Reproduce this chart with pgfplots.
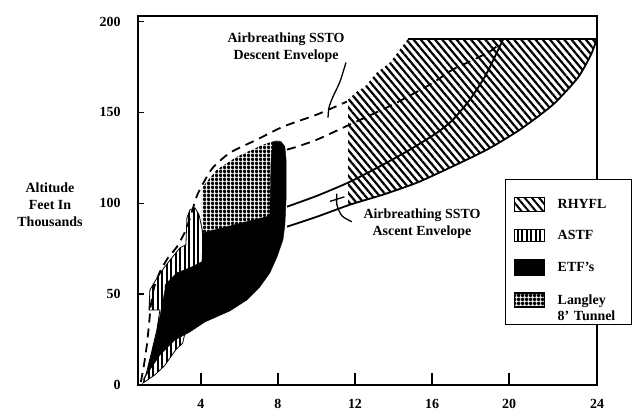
\documentclass[border=0pt]{standalone}
\usepackage{fontspec}
\setmainfont{Liberation Serif}
\usepackage{pgfplots}
\pgfplotsset{compat=1.18}
\usetikzlibrary{patterns.meta}
\newcommand{\lbl}{\fontsize{14}{17}\selectfont\bfseries}
\begin{document}
\begin{tikzpicture}
\useasboundingbox (-138bp,-26bp) rectangle (501bp,385bp);
\begin{axis}[
  at={(0,0)}, anchor=south west,
  scale only axis, width=459bp, height=369bp,
  xmin=0.73, xmax=24.57, ymin=0, ymax=203,
  clip=false,
  axis line style={line width=1.5bp},
  tick align=inside, xtick pos=bottom, ytick pos=left,
  major tick length=6bp,
  tick style={line width=1.4bp, black},
  /pgf/number format/assume math mode=true,
  ticklabel style={font=\lbl},
  ytick={0,50,100,150,200},
  yticklabel style={xshift=-14bp},
  xtick={24.57}, xticklabels={24},
  xticklabel style={yshift=-11bp},
  extra x ticks={4,8,12,16,20},
  extra x tick style={major tick length=12bp},
  legend style={at={(axis cs:19.79,113.5)}, anchor=north west, draw=black,
    line width=1.5bp, fill=white, inner xsep=8bp, inner ysep=17bp,
    row sep=16bp, font=\lbl, nodes={align=left},
    /tikz/every odd column/.append style={column sep=10bp},
    /tikz/every even column/.append style={text width=64bp}},
  legend cell align=left,
]
% legend
\addlegendimage{legend image code/.code={\draw[line width=1.2bp, pattern={Lines[angle=-50,distance=5.5bp,line width=2bp]}] (0bp,-7bp) rectangle (30bp,7bp);}}
\addlegendentry{RHYFL}
\addlegendimage{legend image code/.code={\draw[line width=1.2bp, pattern={Lines[angle=90,distance=4.5bp,line width=2bp]}] (0bp,-6bp) rectangle (30bp,6bp);}}
\addlegendentry{ASTF}
\addlegendimage{legend image code/.code={\draw[line width=1.2bp, fill=black] (0bp,-8bp) rectangle (30bp,8bp);}}
\addlegendentry{ETF's}
\addlegendimage{legend image code/.code={\draw[line width=1.2bp, pattern={Hatch[angle=0,distance=3.6bp,line width=2.1bp]}] (0bp,-7bp) rectangle (30bp,7bp);}}
\addlegendentry{Langley\\8' Tunnel}

% RHYFL
\addplot[forget plot, draw=none, pattern={Lines[angle=-50,distance=5.5bp,line width=2.2bp]}] coordinates {
(11.64,157.0) (11.64,99.7) (11.74,99.2) (13.45,104.7) (15.22,111.3) (16.94,119.6)
(18.86,129.5) (20.57,140.5) (22.29,154.3) (23.58,169.1) (24.26,181.8) (24.57,190.4)
(14.75,190.4) (13.82,177.4) (13.14,171.9) (12.52,164.2) (12.10,161.4)} -- cycle;
% ASTF
\addplot[forget plot, draw=black, line width=0.8bp, pattern={Lines[angle=90,distance=4.5bp,line width=2bp]}] coordinates {
(0.99,1.1) (1.60,5.5) (2.10,10.5) (2.70,19.5) (3.05,23.0) (3.20,30.0) (4.00,45.0) (4.10,67.8) (4.10,83.7)
(3.90,93.7) (3.69,97.5) (3.43,96.4) (3.27,92.0) (3.22,77.1) (2.91,75.5) (2.49,70.0)
(2.08,64.5) (1.66,57.9) (1.35,52.3) (1.30,41.3) (1.87,41.3) (1.71,30.3) (1.40,16.5) (1.14,5.5)} -- cycle;
% Langley 8' tunnel
\addplot[forget plot, draw=none, pattern={Hatch[angle=0,distance=3.6bp,line width=2.1bp]}] coordinates {
(4.05,83.7) (4.05,108.5) (4.47,114.0) (4.83,118.5) (5.87,125.6) (7.22,132.2)
(7.84,134.4) (8.10,134.4) (8.10,90.9) (5.77,87.6)} -- cycle;
% ETF's
\addplot[forget plot, draw=black, fill=black] coordinates {
(0.99,2.8) (1.87,16.5) (2.65,24.8) (3.43,29.2) (4.21,34.7) (5.51,40.8) (6.39,46.8)
(7.06,54.0) (7.58,61.7) (7.95,70.5) (8.26,79.9) (8.36,88.2) (8.42,101.9) (8.42,124.0)
(8.36,131.1) (8.16,133.9) (7.74,133.9) (7.64,124.0) (7.58,93.7) (7.43,92.6) (5.77,88.2)
(4.10,83.7) (4.05,67.8) (3.43,64.5) (2.75,61.7) (2.13,55.1) (2.13,52.3) (1.97,43.0)
(1.61,24.8) (1.19,6.6)} -- cycle;
% descent envelope (dashed)
\addplot[forget plot, black, line width=1.8bp, dash pattern=on 9bp off 6bp, smooth, tension=0.4] coordinates {
(0.88,1.7) (1.04,11.0) (1.19,22.0) (1.30,33.1) (1.40,44.1) (1.56,53.4) (1.87,62.3)
(2.29,70.0) (2.75,76.0) (3.22,85.4) (3.53,95.3) (3.79,104.1) (4.16,111.8) (4.62,119.6)
(5.51,127.8) (6.91,135.0) (8.26,142.1) (10.03,148.8) (11.58,155.9)};
\addplot[forget plot, black, line width=1.8bp, dash pattern=on 9bp off 6bp, smooth, tension=0.4] coordinates {
(8.47,129.5) (8.99,131.1) (10.03,135.0) (11.74,143.3) (12.52,147.1) (13.97,154.3)
(15.90,165.3) (17.09,173.6) (17.97,178.0) (19.01,183.5) (19.53,187.9)};
% ascent envelope (solid)
\addplot[forget plot, black, line width=1.8bp, smooth, tension=0.4] coordinates {
(8.47,98.1) (10.03,104.1) (11.74,111.8) (13.45,121.2) (14.86,129.5) (16.26,138.8)
(17.09,146.0) (17.97,157.0) (18.75,169.7) (19.27,180.7) (19.69,190.1)};
\addplot[forget plot, black, line width=1.8bp, smooth, tension=0.4] coordinates {
(8.47,87.1) (10.03,92.6) (11.74,99.2) (13.45,104.7) (15.22,111.3) (16.94,119.6)
(18.86,129.5) (20.57,140.5) (22.29,154.3) (23.58,169.1) (24.26,181.8) (24.57,190.6)};
% RHYFL top edge
\addplot[forget plot, black, line width=1.8bp] coordinates {(14.75,190.4) (24.57,190.4)};
% leaders
\addplot[forget plot, black, line width=1.3bp, smooth] coordinates {
(11.53,177.4) (11.22,166.9) (10.86,158.7) (10.65,152.6) (10.60,147.1)};
\addplot[forget plot, black, line width=1.3bp, smooth] coordinates {
(11.84,89.8) (11.32,93.1) (11.06,99.2) (11.06,105.2)};
\addplot[forget plot, black, line width=1.3bp] coordinates {(10.70,101.0) (11.45,103.5)};
% labels
\node[font=\lbl, align=center] at (axis cs:8.42,185.4) {Airbreathing SSTO\\Descent Envelope};
\node[font=\lbl, align=center] at (axis cs:15.48,89.0) {Airbreathing SSTO\\Ascent Envelope};
\node[font=\lbl, align=center] at (axis cs:-3.84,99.4) {Altitude\\Feet In\\Thousands};
\end{axis}
\end{tikzpicture}
\end{document}
